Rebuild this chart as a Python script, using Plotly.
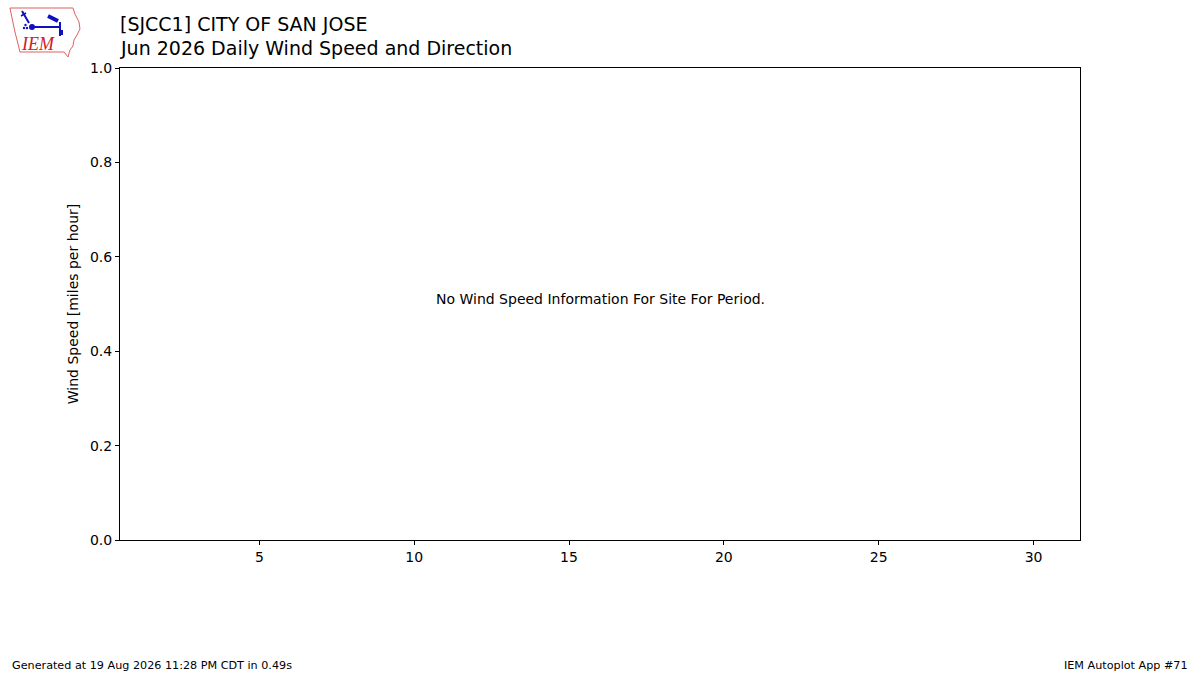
import plotly.graph_objects as go

# chart content
station = "[SJCC1] CITY OF SAN JOSE"
subtitle = "Jun 2026 Daily Wind Speed and Direction"
message = "No Wind Speed Information For Site For Period."
footer_left = "Generated at 19 Aug 2026 11:28 PM CDT in 0.49s"
footer_right = "IEM Autoplot App #71"
y_title = "Wind Speed [miles per hour]"

x_range = [0.5, 31.5]
x_ticks = [5, 10, 15, 20, 25, 30]
y_range = [0, 1]
y_ticks = [0.0, 0.2, 0.4, 0.6, 0.8, 1.0]

# no observations for the period
days = []
speeds = []

W, H = 1200, 675
L, R, T, B = 120, 120, 68, 135
FONT = "DejaVu Sans"


def px(x, y):
    # pixel -> paper coordinates
    return (x - L) / (W - L - R), (H - B - y) / (H - T - B)


def path(points):
    parts = []
    for i, (x, y) in enumerate(points):
        a, b = px(x, y)
        parts.append(("M" if i == 0 else "L") + f"{a:.4f},{b:.4f}")
    return " ".join(parts) + " Z"


fig = go.Figure()
fig.add_trace(go.Scatter(x=days, y=speeds, mode="lines", showlegend=False))

# IEM logo, roughly
iowa = [(10, 8), (73, 8), (75, 14), (79, 22), (80, 29), (77, 35), (74, 40),
        (73, 46), (70, 50), (68, 57), (64, 52), (20, 52), (18, 44), (15, 32),
        (12, 18)]
shapes = [dict(type="path", xref="paper", yref="paper", path=path(iowa),
               line=dict(color="#e06060", width=1), fillcolor="rgba(0,0,0,0)")]
blue = "#1010c0"
for seg, w in [([(31, 27), (61, 27)], 2), ([(60, 22), (60, 36)], 2),
               ([(48, 16), (58, 21)], 4), ([(22, 11), (29, 23)], 2),
               ([(21, 16), (26, 13)], 1.5), ([(62, 30), (62, 35)], 2)]:
    (x0, y0), (x1, y1) = px(*seg[0]), px(*seg[1])
    shapes.append(dict(type="line", xref="paper", yref="paper", x0=x0, y0=y0,
                       x1=x1, y1=y1, line=dict(color=blue, width=w)))
for (a, b, r) in [(32, 27, 3), (24, 28, 1.2), (27, 28, 1.2), (25.5, 25, 1.2)]:
    cx0, cy0 = px(a - r, b + r)
    cx1, cy1 = px(a + r, b - r)
    shapes.append(dict(type="circle", xref="paper", yref="paper", x0=cx0,
                       y0=cy0, x1=cx1, y1=cy1, fillcolor=blue,
                       line=dict(color=blue, width=0)))

ann = []
lx, ly = px(38, 44)
ann.append(dict(text="<i>IEM</i>", x=lx, y=ly, xref="paper", yref="paper",
                xanchor="center", yanchor="middle", showarrow=False,
                font=dict(family="Liberation Serif", size=18,
                          color="#d02020")))

tx, ty1 = px(120, 24)
_, ty2 = px(120, 48)
ann.append(dict(text=station, x=tx, y=ty1, xref="paper", yref="paper",
                xanchor="left", yanchor="middle", xshift=-2, showarrow=False,
                font=dict(family=FONT, size=19, color="black")))
ann.append(dict(text=subtitle, x=tx, y=ty2, xref="paper", yref="paper",
                xanchor="left", yanchor="middle", xshift=-2, showarrow=False,
                font=dict(family=FONT, size=19, color="black")))
mx, my = px(600, 299)
ann.append(dict(text=message, x=mx, y=my, xref="paper", yref="paper",
                xanchor="center", yanchor="middle", showarrow=False,
                font=dict(family=FONT, size=14, color="black")))
fx, fy = px(10, 665)
ann.append(dict(text=footer_left, x=fx, y=fy, xref="paper", yref="paper",
                xanchor="left", yanchor="middle", showarrow=False,
                font=dict(family=FONT, size=11.2, color="black")))
fx2, _ = px(1190, 665)
ann.append(dict(text=footer_right, x=fx2, y=fy, xref="paper", yref="paper",
                xanchor="right", yanchor="middle", showarrow=False,
                font=dict(family=FONT, size=11.2, color="black")))

axis_common = dict(showgrid=False, zeroline=False, showline=True,
                   linecolor="black", linewidth=1, mirror=True,
                   ticks="outside", ticklen=4, tickcolor="black",
                   tickfont=dict(family=FONT, size=14, color="black"))

fig.update_layout(
    width=W, height=H,
    margin=dict(l=L, r=R, t=T, b=B),
    paper_bgcolor="white", plot_bgcolor="white",
    shapes=shapes, annotations=ann,
    xaxis=dict(range=x_range, tickvals=x_ticks, **axis_common),
    yaxis=dict(range=y_range, tickvals=y_ticks, tickformat=".1f",
               title=dict(text=y_title, standoff=8,
                          font=dict(family=FONT, size=14, color="black")),
               **axis_common),
)

# drop the page's default body margin so the figure sits at the top-left
fig.write_html("out.html", config={"displayModeBar": False},
               post_script="document.body.style.margin = '0';")
